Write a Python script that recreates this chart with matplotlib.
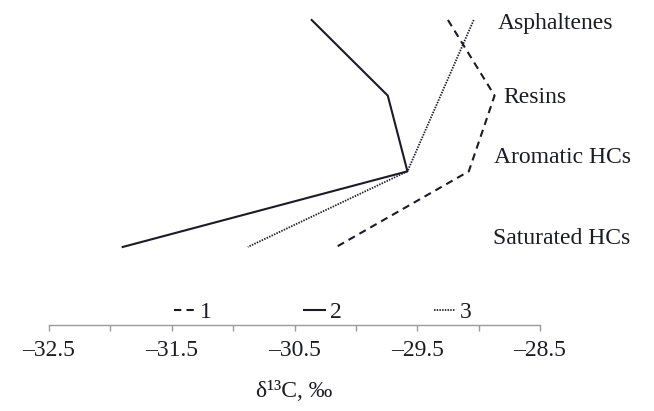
import matplotlib
matplotlib.use("Agg")
import matplotlib.pyplot as plt
import numpy as np

# fractions, top to bottom
fractions = ['Asphaltenes', 'Resins', 'Aromatic HCs', 'Saturated HCs']
# delta 13C values (per mil), same order as fractions
d13c_1 = [-29.25, -28.87, -29.08, -30.16]
d13c_2 = [-30.36, -29.74, -29.58, -31.90]
d13c_3 = [-29.04, -29.31, -29.58, -30.88]
series_names = ['1', '2', '3']
xticks_major = [-32.5, -31.5, -30.5, -29.5, -28.5]
xticks_minor = [-32.0, -31.0, -30.0, -29.0]

plt.rcParams['font.family'] = ['Liberation Serif', 'DejaVu Serif']
ink = '#1b1b26'

fig = plt.figure(figsize=(6.54, 4.11), dpi=100)
ax = fig.add_axes([49/654, 1 - 325/411, 491/654, 315/411])

ypos = np.arange(len(fractions))[::-1]  # Asphaltenes on top

ax.plot(d13c_1, ypos, color=ink, lw=1.5, linestyle=(0, (3.5, 2.5)), label=series_names[0])
ax.plot(d13c_2, ypos, color=ink, lw=1.5, linestyle='-', label=series_names[1])
ax.plot(d13c_3, ypos, color=ink, lw=1.3, linestyle=(0, (0.8, 0.7)), label=series_names[2])

ax.set_xlim(-32.5, -28.5)
ax.set_ylim(-1.031, 3.132)

ax.set_xticks(xticks_major)
ax.set_xticklabels([('%.1f' % t).replace('-', '\u2013') for t in xticks_major])
ax.set_xticks(xticks_minor, minor=True)
ax.tick_params(axis='x', which='both', direction='out', length=4, width=1,
               color='#9a9a9a', labelsize=17, labelcolor=ink, pad=7)
ax.set_yticks([])
for s in ['top', 'right', 'left']:
    ax.spines[s].set_visible(False)
ax.spines['bottom'].set_color('#9a9a9a')
ax.spines['bottom'].set_linewidth(1)

ax.set_xlabel('\u03b4\u00b9\u00b3C, \u2030', fontsize=17, color=ink, labelpad=14)

# category labels on the right
label_pos = [(0.914, 0.958), (0.925, 0.721), (0.906, 0.533), (0.904, 0.276)]
for name, (lx, ly) in zip(fractions, label_pos):
    ax.text(lx, ly, name, transform=ax.transAxes, fontsize=17, color=ink,
            ha='left', va='center', clip_on=False)

ax.legend(loc='center', bbox_to_anchor=(0.558, 0.041), ncol=3, frameon=False,
          fontsize=17, handlelength=0.9, handletextpad=0.2, columnspacing=3.9,
          labelcolor=ink, borderpad=0)

fig.savefig('out.png', dpi=100)
